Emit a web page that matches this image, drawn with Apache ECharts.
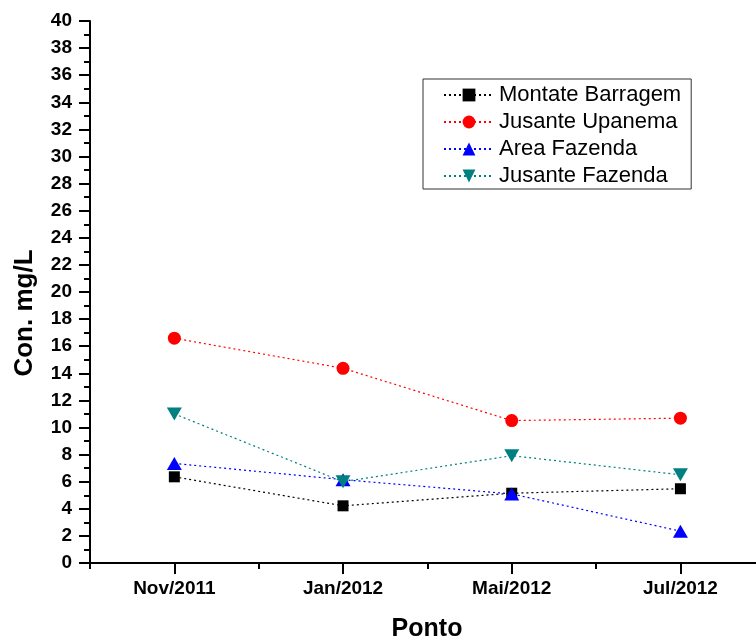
<!DOCTYPE html>
<html>
<head>
<meta charset="utf-8">
<script src="https://cdn.jsdelivr.net/npm/echarts@6/dist/echarts.min.js"></script>
<style>html,body{margin:0;padding:0;background:#fff}#c{width:756px;height:641px}</style>
</head>
<body>
<div id="c"></div>
<script>
var categories = ['Nov/2011', 'Jan/2012', 'Mai/2012', 'Jul/2012'];
var seriesNames = ['Montate Barragem', 'Jusante Upanema', 'Area Fazenda', 'Jusante Fazenda'];
var montateBarragem = [6.36, 4.22, 5.15, 5.48];
var jusanteUpanema = [16.59, 14.37, 10.51, 10.69];
var areaFazenda = [7.35, 6.15, 5.1, 2.35];
var jusanteFazenda = [11.0, 6.0, 7.92, 6.51];
var yTicks = [0, 2, 4, 6, 8, 10, 12, 14, 16, 18, 20, 22, 24, 26, 28, 30, 32, 34, 36, 38, 40];

var FONT = '"Liberation Sans", Arial, Helvetica, sans-serif';
function toPts(arr) { return arr.map(function (v, i) { return [i + 1, v]; }); }
var catPositions = categories.map(function (c, i) { return i + 1; });
var halfPositions = categories.map(function (c, i) { return i + 0.5; });

var styles = [
  { color: '#000000', symbol: 'rect', size: 11, rotate: 0 },
  { color: '#ff0000', symbol: 'circle', size: 13, rotate: 0 },
  { color: '#0000ff', symbol: 'triangle', size: [15, 13], rotate: 0 },
  { color: '#008080', symbol: 'triangle', size: [15, 13], rotate: 180 }
];
var allData = [montateBarragem, jusanteUpanema, areaFazenda, jusanteFazenda];

var series = allData.map(function (d, k) {
  var s = styles[k];
  return {
    name: seriesNames[k],
    type: 'line',
    xAxisIndex: 0,
    data: toPts(d),
    symbol: s.symbol,
    symbolSize: s.size,
    symbolRotate: s.rotate,
    showAllSymbol: true,
    itemStyle: { color: s.color },
    lineStyle: { color: s.color, width: 1.2, type: [2, 3] },
    emphasis: { disabled: true },
    animation: false,
    z: 3
  };
});

var XMAX = 4.448;
var chart = echarts.init(document.getElementById('c'), null, { renderer: 'canvas' });
chart.setOption({
  backgroundColor: '#ffffff',
  animation: false,
  grid: { left: 90, right: 0, top: 21, bottom: 78, containLabel: false },
  legend: {
    orient: 'vertical',
    left: 423,
    top: 79,
    padding: [5, 10, 2, 20],
    itemWidth: 50,
    itemHeight: 16,
    itemGap: 5,
    borderColor: '#333333',
    borderWidth: 1,
    symbolRotate: 'inherit',
    textStyle: { fontFamily: FONT, fontSize: 22, color: '#000', lineHeight: 22 },
    data: seriesNames
  },
  xAxis: [
    {
      type: 'value', min: 0.5, max: XMAX, interval: 0.5,
      axisLine: { show: true, lineStyle: { color: '#000', width: 2 } },
      axisTick: { show: false },
      axisLabel: { show: false },
      splitLine: { show: false }
    },
    {
      type: 'value', min: 0.5, max: XMAX, interval: 0.5, position: 'bottom',
      axisLine: { show: false },
      axisTick: { show: true, length: 11, customValues: catPositions, lineStyle: { color: '#000', width: 2 } },
      axisLabel: {
        show: true, customValues: catPositions, margin: 16,
        fontFamily: FONT, fontWeight: 'bold', fontSize: 19, color: '#000',
        formatter: function (v) { return categories[Math.round(v) - 1] || ''; }
      },
      splitLine: { show: false }
    },
    {
      type: 'value', min: 0.5, max: XMAX, interval: 0.5, position: 'bottom',
      axisLine: { show: false },
      axisTick: { show: true, length: 6, customValues: halfPositions, lineStyle: { color: '#000', width: 2 } },
      axisLabel: { show: false },
      splitLine: { show: false }
    }
  ],
  yAxis: {
    type: 'value', min: 0, max: 40, interval: 2,
    axisLine: { show: true, lineStyle: { color: '#000', width: 2 } },
    axisTick: { show: true, length: 11, customValues: yTicks, lineStyle: { color: '#000', width: 2 } },
    minorTick: { show: true, splitNumber: 2, length: 6, lineStyle: { color: '#000', width: 2 } },
    axisLabel: {
      margin: 18, customValues: yTicks,
      fontFamily: FONT, fontWeight: 'bold', fontSize: 19, color: '#000'
    },
    splitLine: { show: false },
    minorSplitLine: { show: false }
  },
  graphic: [
    {
      type: 'text', x: 25, y: 313, rotation: Math.PI / 2,
      style: { text: 'Con. mg/L', font: 'bold 26px ' + FONT, fill: '#000', align: 'center', verticalAlign: 'middle' }
    },
    {
      type: 'text', x: 427, y: 629,
      style: { text: 'Ponto', font: 'bold 25px ' + FONT, fill: '#000', align: 'center', verticalAlign: 'middle' }
    }
  ],
  series: series
});
</script>
</body>
</html>
